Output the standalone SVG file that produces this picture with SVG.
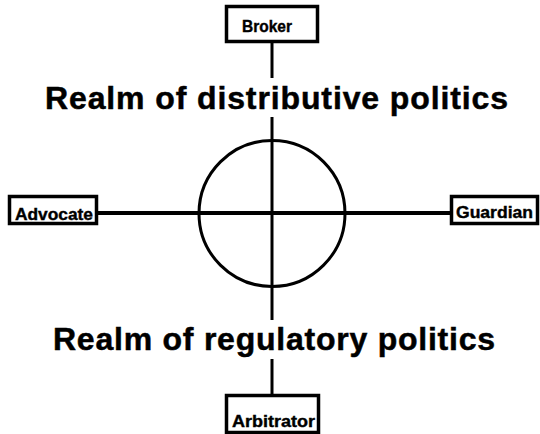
<svg xmlns="http://www.w3.org/2000/svg" width="540" height="434" viewBox="0 0 540 434">
<style>
.box{fill:#fff;stroke:#000;stroke-width:3.5}
.lbl{font-family:"Liberation Sans",Arial,sans-serif;font-weight:bold;font-size:17px;fill:#000;stroke:#000;stroke-width:0.4}
.realm{font-family:"Liberation Sans",Arial,sans-serif;font-weight:bold;font-size:32px;fill:#000;stroke:#000;stroke-width:0.5}
.ln{stroke:#000;fill:none}
</style>
<rect width="540" height="434" fill="#fff"/>
<g id="connectors">
<line class="ln" x1="272" y1="42" x2="272" y2="78" stroke-width="3"/>
<line class="ln" x1="272" y1="117" x2="272" y2="320" stroke-width="3"/>
<line class="ln" x1="272" y1="359" x2="272" y2="395" stroke-width="3"/>
<line class="ln" x1="97" y1="213" x2="451" y2="213" stroke-width="4"/>
</g>
<g id="circle">
<circle class="ln" cx="272" cy="213.5" r="73" stroke-width="3"/>
</g>
<g id="realm-distributive">
<text class="realm" x="45" y="109" textLength="463" lengthAdjust="spacing">Realm of distributive politics</text>
</g>
<g id="realm-regulatory">
<text class="realm" x="53" y="350" textLength="442" lengthAdjust="spacing">Realm of regulatory politics</text>
</g>
<g id="broker">
<rect class="box" x="226.5" y="6.5" width="91" height="35"/>
<text class="lbl" x="242" y="32" textLength="50" lengthAdjust="spacingAndGlyphs">Broker</text>
</g>
<g id="advocate">
<rect class="box" x="9.5" y="196.5" width="87" height="27"/>
<text class="lbl" x="15" y="220" textLength="78" lengthAdjust="spacingAndGlyphs">Advocate</text>
</g>
<g id="guardian">
<rect class="box" x="451.5" y="196.5" width="86" height="27"/>
<text class="lbl" x="456" y="218" textLength="77" lengthAdjust="spacingAndGlyphs">Guardian</text>
</g>
<g id="arbitrator">
<rect class="box" x="226.5" y="395.5" width="92" height="37"/>
<text class="lbl" x="232" y="427" textLength="83" lengthAdjust="spacingAndGlyphs">Arbitrator</text>
</g>
</svg>
